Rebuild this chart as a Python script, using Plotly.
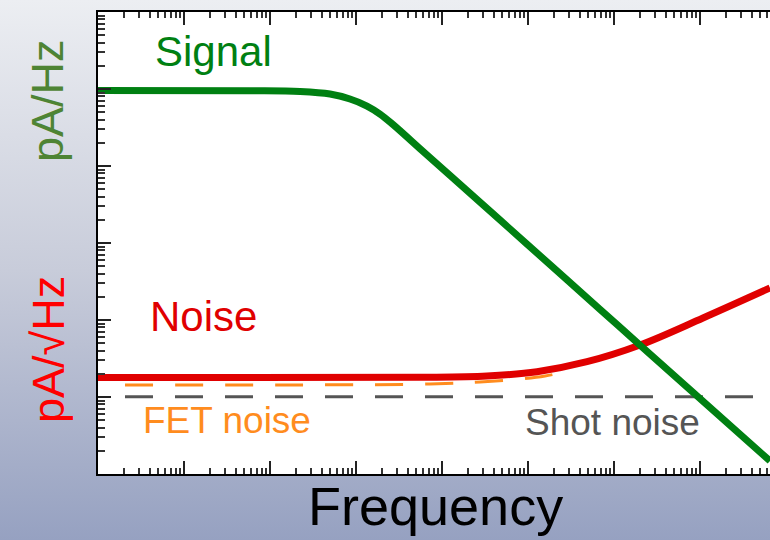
import base64
import numpy as np
import plotly.graph_objects as go

# ---- data (log10 of frequency / amplitude) ----
signal_logf = [0.0, 1.767, 2.349, 2.698, 2.930, 3.128, 3.279, 3.430, 3.779, 4.093,
               4.674, 5.256, 5.837, 6.302, 6.919, 7.814]
signal_loga = [4.981, 4.978, 4.968, 4.935, 4.870, 4.779, 4.675, 4.539, 4.190, 3.877,
               3.299, 2.719, 2.139, 1.675, 1.061, 0.169]

noise_logf = [0.0, 3.744, 4.523, 5.105, 5.686, 6.302, 7.035, 7.814]
noise_loga = [1.253, 1.256, 1.273, 1.329, 1.458, 1.675, 2.026, 2.416]

fet_logf = [0.314, 3.860, 4.442, 4.907, 5.198, 5.430]
fet_loga = [1.156, 1.169, 1.195, 1.234, 1.273, 1.325]

shot_logf = [0.314, 7.9]
shot_loga = [1.004, 1.004]

x_range_log = [0.0, 7.814]
y_range_log = [0.0, 6.0]

FONT = "Liberation Sans, Arial, sans-serif"
GREEN = "rgb(0,128,18)"
RED = "rgb(224,0,0)"
ORANGE = "rgb(255,140,30)"
GRAY = "rgb(85,85,85)"

W, H = 770, 540
ML, MR, MT, MB = 98, 0, 12, 66
PW, PH = W - ML - MR, H - MT - MB


def pw(vals):
    return np.power(10.0, np.asarray(vals, dtype=float))


fig = go.Figure()
fig.add_trace(go.Scatter(x=pw(shot_logf), y=pw(shot_loga), mode="lines",
                         line=dict(color=GRAY, width=3, dash="28px,22px"),
                         hoverinfo="skip"))
fig.add_trace(go.Scatter(x=pw(fet_logf), y=pw(fet_loga), mode="lines",
                         line=dict(color=ORANGE, width=3, dash="28px,22px", shape="spline"),
                         hoverinfo="skip"))
fig.add_trace(go.Scatter(x=pw(noise_logf), y=pw(noise_loga), mode="lines",
                         line=dict(color=RED, width=7, shape="spline"),
                         hoverinfo="skip"))
fig.add_trace(go.Scatter(x=pw(signal_logf), y=pw(signal_loga), mode="lines",
                         line=dict(color=GREEN, width=7, shape="spline"),
                         hoverinfo="skip"))


# log minor tick positions
def minor_vals(lo, hi):
    return [k * 10.0 ** n for n in range(lo, hi) for k in range(2, 10)]


axis_common = dict(type="log", showgrid=False, zeroline=False, showticklabels=False,
                   showline=True, linecolor="black", linewidth=2,
                   ticks="inside", tickcolor="#222", tickwidth=1.5, ticklen=13,
                   dtick=1)

fig.update_xaxes(range=x_range_log, mirror="ticks",
                 minor=dict(ticks="inside", ticklen=6, tickwidth=1.5, tickcolor="#333",
                            tickmode="array", tickvals=minor_vals(0, 8)),
                 **axis_common)
fig.update_yaxes(range=y_range_log, mirror=False,
                 minor=dict(ticks="inside", ticklen=7, tickwidth=1.5, tickcolor="#333",
                            tickmode="array", tickvals=minor_vals(0, 6)),
                 **axis_common)

# vertical gradient background
svg = (f'<svg xmlns="http://www.w3.org/2000/svg" width="{W}" height="{H}">'
       '<defs><linearGradient id="g" x1="0" y1="0" x2="0" y2="1">'
       '<stop offset="0" stop-color="#eceef2"/>'
       '<stop offset="0.5" stop-color="#c8ccda"/>'
       '<stop offset="1" stop-color="#96a1c1"/>'
       '</linearGradient></defs>'
       f'<rect width="{W}" height="{H}" fill="url(#g)"/></svg>')
src = "data:image/svg+xml;base64," + base64.b64encode(svg.encode()).decode()

fig.add_layout_image(dict(source=src, xref="paper", yref="paper",
                          x=-ML / PW, y=1 + MT / PH, sizex=W / PW, sizey=H / PH,
                          xanchor="left", yanchor="top", sizing="stretch", layer="below"))
fig.add_shape(type="rect", xref="paper", yref="paper", x0=0, x1=1, y0=0, y1=1,
              fillcolor="white", line=dict(width=0), layer="below")

# curve labels (positions in log10 units)
labels = [
    ("Signal", 1.343, 5.474, GREEN, 42),
    ("Noise", 1.221, 2.032, RED, 42),
    ("FET noise", 1.500, 0.682, ORANGE, 37),
    ("Shot noise", 5.988, 0.656, GRAY, 37),
]
for text, lx, ly, col, size in labels:
    fig.add_annotation(x=lx, y=ly, xref="x", yref="y", text=text, showarrow=False,
                       font=dict(family=FONT, size=size, color=col),
                       xanchor="center", yanchor="middle", yshift=1)

fig.add_annotation(x=(435 - ML) / PW, y=(H - MB - 506) / PH, xref="paper", yref="paper",
                   text="Frequency", showarrow=False,
                   font=dict(family=FONT, size=54, color="black"),
                   xanchor="center", yanchor="middle")

fig.add_annotation(x=(48 - ML) / PW, y=(H - MB - 101) / PH, xref="paper", yref="paper",
                   text="pA/Hz", textangle=-90, showarrow=False,
                   font=dict(family=FONT, size=45, color="rgb(78,132,52)"),
                   xanchor="center", yanchor="middle")
fig.add_annotation(x=(48 - ML) / PW, y=(H - MB - 350) / PH, xref="paper", yref="paper",
                   text="pA/√Hz", textangle=-90, showarrow=False,
                   font=dict(family=FONT, size=45, color="rgb(255,0,0)"),
                   xanchor="center", yanchor="middle")

fig.update_layout(width=W, height=H, margin=dict(l=ML, r=MR, t=MT, b=MB, pad=0),
                  paper_bgcolor="#c8ccda", plot_bgcolor="white",
                  showlegend=False, font=dict(family=FONT))

fig.write_html("out.html")
